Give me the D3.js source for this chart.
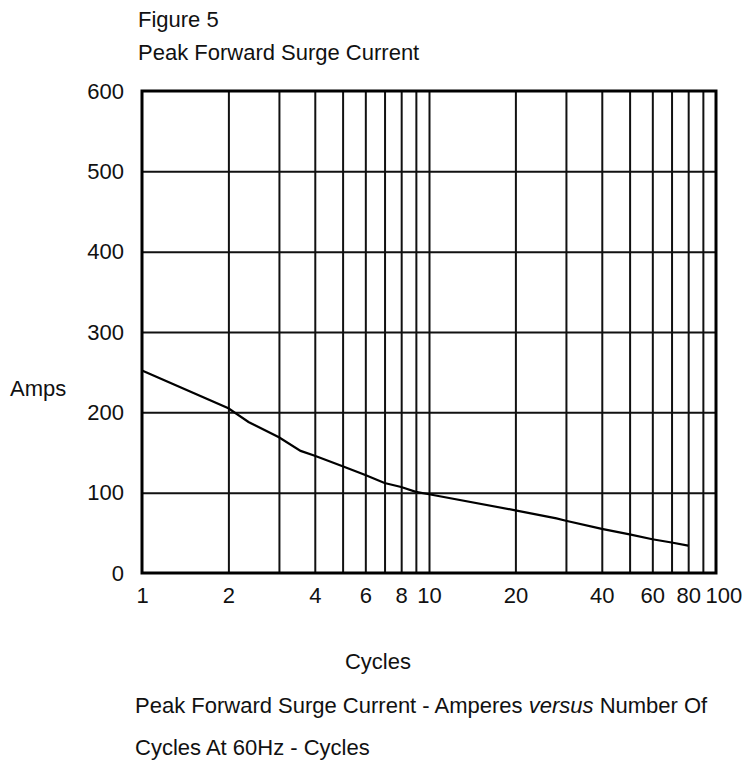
<!DOCTYPE html>
<html>
<head>
<meta charset="utf-8">
<script src="https://cdn.jsdelivr.net/npm/d3@7"></script>
<style>
  body { margin: 0; background: #fff; }
  text { font-family: "Liberation Sans", Arial, sans-serif; fill: #111; }
</style>
</head>
<body>
<svg id="chart"></svg>
<script>
// values
var cycles = [1, 2, 2.35, 3, 3.57, 4, 5, 6, 7, 8, 9, 10, 20, 27.8, 30, 40, 50, 60, 70, 80]
var amps = [252, 205, 188, 169, 152, 146, 133, 122, 112, 107, 101, 98, 78, 68, 65, 55, 48, 42, 38, 34]

var x_ticks = [1, 2, 4, 6, 8, 10, 20, 40, 60, 80, 100]
var x_grid = [2, 3, 4, 5, 6, 7, 8, 9, 10, 20, 30, 40, 50, 60, 70, 80, 90]
var y_ticks = [0, 100, 200, 300, 400, 500, 600]
var y_grid = [100, 200, 300, 400, 500]

function drawChart(){
    const MARGINS = {top: 91, left: 142}
    const CWIDTH = 574
    const CHEIGHT = 482

    const svg = d3.select("#chart")
        .attr("width", 742)
        .attr("height", 767)

    const xScale = d3.scaleLog().domain([1, 100]).range([0, CWIDTH])
    const yScale = d3.scaleLinear().domain([0, 600]).range([CHEIGHT, 0])

    const graph = svg.append("g")
        .attr("transform", `translate(${MARGINS.left}, ${MARGINS.top})`)

    // grid
    graph.append("g")
        .attr("transform", `translate(0, ${CHEIGHT})`)
        .call(d3.axisBottom(xScale).tickValues(x_grid).tickSize(-CHEIGHT).tickFormat(""))
        .call(g => g.select(".domain").remove())
        .selectAll("line").attr("stroke", "#111").attr("stroke-width", 2)

    graph.append("g")
        .call(d3.axisLeft(yScale).tickValues(y_grid).tickSize(-CWIDTH).tickFormat(""))
        .call(g => g.select(".domain").remove())
        .selectAll("line").attr("stroke", "#111").attr("stroke-width", 2)

    graph.append("rect")
        .attr("width", CWIDTH)
        .attr("height", CHEIGHT)
        .attr("fill", "none")
        .attr("stroke", "#000")
        .attr("stroke-width", 3)

    // tick labels
    graph.append("g")
        .attr("transform", `translate(0, ${CHEIGHT})`)
        .call(d3.axisBottom(xScale).tickValues(x_ticks).tickSize(0).tickPadding(14).tickFormat(d3.format("d")))
        .call(g => g.select(".domain").remove())
        .selectAll("text").attr("font-size", 22).attr("font-family", null)
        .filter(d => d == 100)
        .attr("text-anchor", "start")
        .attr("dx", -11)

    graph.append("g")
        .call(d3.axisLeft(yScale).tickValues(y_ticks).tickSize(0).tickPadding(18))
        .call(g => g.select(".domain").remove())
        .selectAll("text").attr("font-size", 22).attr("font-family", null)

    // curve
    const pts = cycles.map((c, i) => [c, amps[i]])
    const line = d3.line().x(d => xScale(d[0])).y(d => yScale(d[1]))
    graph.append("path")
        .datum(pts)
        .attr("d", line)
        .attr("fill", "none")
        .attr("stroke", "#000")
        .attr("stroke-width", 2.2)

    // texts
    svg.append("text").attr("x", 138).attr("y", 27).attr("font-size", 22).text("Figure 5")
    svg.append("text").attr("x", 138).attr("y", 60).attr("font-size", 22).text("Peak Forward Surge Current")
    svg.append("text").attr("x", 10).attr("y", 396).attr("font-size", 22).text("Amps")
    svg.append("text").attr("x", 378).attr("y", 669).attr("font-size", 22).attr("text-anchor", "middle").text("Cycles")

    const cap = svg.append("text").attr("x", 135).attr("y", 713).attr("font-size", 22)
    cap.append("tspan").text("Peak Forward Surge Current - Amperes ")
    cap.append("tspan").attr("font-style", "italic").text("versus")
    cap.append("tspan").text(" Number Of")
    svg.append("text").attr("x", 135).attr("y", 755).attr("font-size", 22).text("Cycles At 60Hz - Cycles")
}

drawChart()
</script>
</body>
</html>
